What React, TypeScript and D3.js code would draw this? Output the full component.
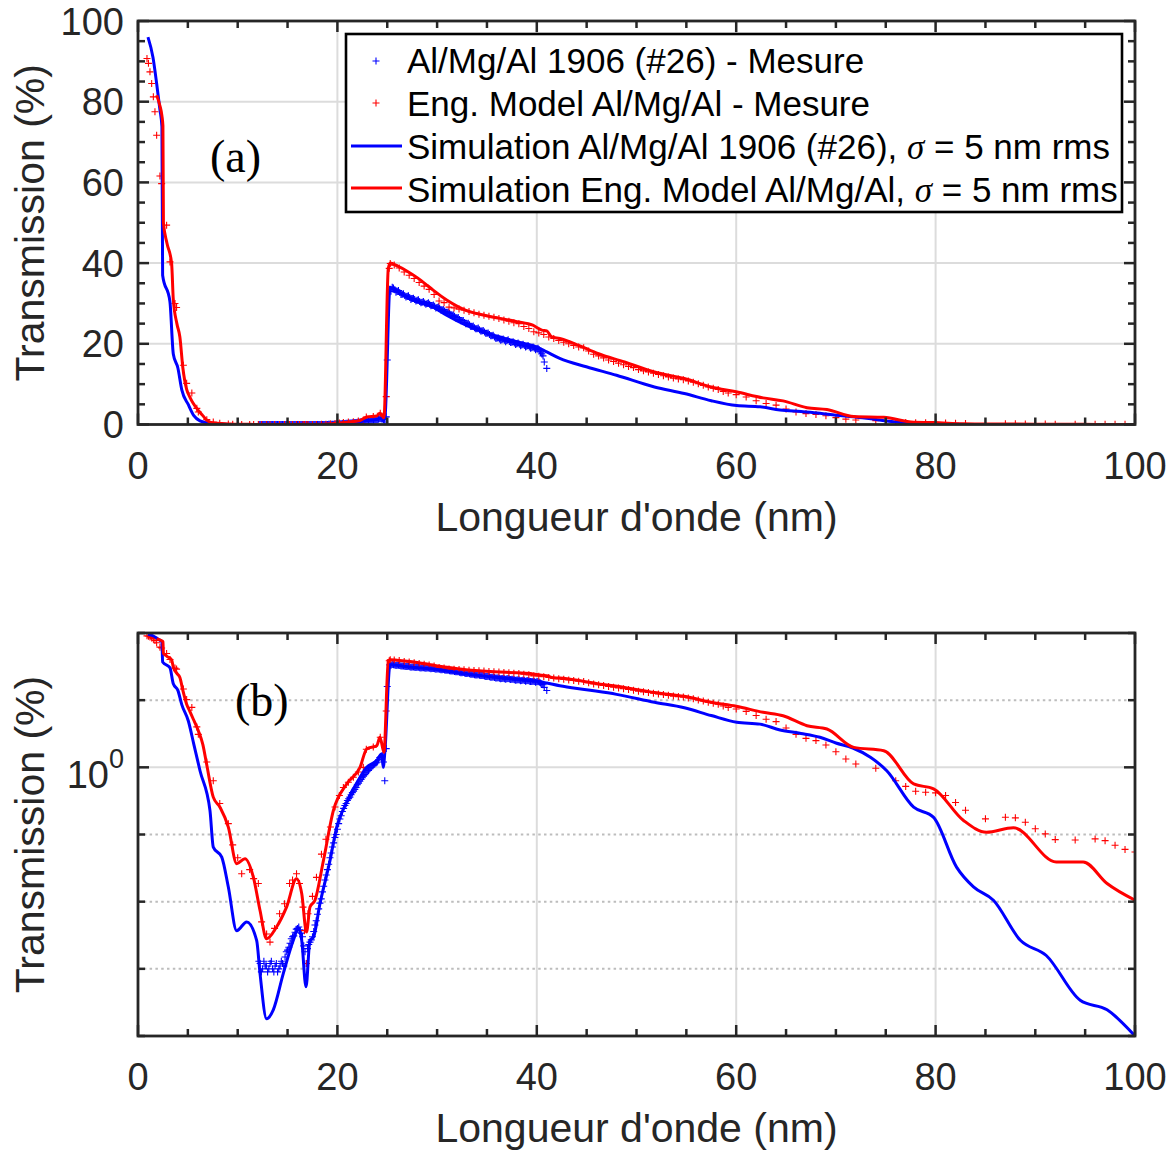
import React from "react";
import * as d3 from "d3";

type P = [number, number];

const X_TICKS = [0, 20, 40, 60, 80, 100];
const X_MINOR_STEP = 5;
const LIN_Y_TICKS = [0, 20, 40, 60, 80, 100];
const LIN_Y_MINOR_STEP = 5;
const LOG_DECADES = [1e-4, 1e-3, 1e-2, 1e-1, 1, 10, 100];
const X_LABEL = "Longueur d'onde (nm)";
const Y_LABEL = "Transmission (%)";
const LEGEND_MEAS = ["Al/Mg/Al 1906 (#26) - Mesure", "Eng. Model Al/Mg/Al - Mesure"];
const LEGEND_SIM = ["Simulation Al/Mg/Al 1906 (#26), ", "Simulation Eng. Model Al/Mg/Al, "];
const SIGMA_TEXT = " = 5 nm rms";

// Simulation Al/Mg/Al 1906 (#26) [wavelength nm, transmission %]
const blueSim: P[] = [
  [1.0, 96], [1.5, 91], [1.87, 84.5], [2.2, 78], [2.4, 73.8], [2.47, 37], [3.2, 30.5], [3.54, 17.5],
  [4.0, 14], [4.4, 8.5], [5.05, 4.9], [5.6, 2.2], [6.22, 0.89], [7.22, 0.227], [7.55, 0.065],
  [8.4, 0.046], [9.06, 0.0165], [9.9, 0.0037], [10.9, 0.005], [11.9, 0.00266], [12.24, 0.00085],
  [12.9, 0.00018], [13.57, 0.000245], [14.57, 0.00085], [15.58, 0.00266], [16.08, 0.004],
  [16.42, 0.00266], [16.85, 0.00054], [17.25, 0.00266], [17.6, 0.00295], [18.25, 0.0093],
  [19.26, 0.041], [19.93, 0.129], [20.93, 0.302], [22.27, 0.71], [22.94, 1.0], [23.94, 1.26],
  [24.44, 1.58], [24.6, 1.0], [24.77, 1.78], [25.28, 34], [26, 33], [27, 31.5], [28, 30.4],
  [29.6, 29.1], [31, 27], [32.9, 24.6], [34.5, 23], [36.3, 21.7], [38, 20.5], [40, 19.2], [41, 18],
  [42.3, 16.4], [44.97, 14.3], [48, 12.2], [51.8, 9.3], [54.8, 7.7], [57.5, 5.9], [60.05, 4.7],
  [62.4, 4.4], [64.4, 3.6], [66.5, 3.2], [68.4, 2.8], [70, 2.3], [71.7, 1.94], [73.5, 1.4],
  [75.1, 0.89], [77.8, 0.255], [79.8, 0.18], [82.1, 0.0327], [83.8, 0.0166], [85.8, 0.0105],
  [88.5, 0.00266], [91.1, 0.00158], [94.5, 0.00034], [97.2, 0.000245], [100, 0.0001],
];

// Simulation Eng. Model Al/Mg/Al
const redSim: P[] = [
  [1.87, 81.6], [2.2, 79], [2.4, 76.5], [2.5, 74], [2.55, 50], [2.9, 45], [3.37, 40], [3.54, 31],
  [3.9, 25], [4.2, 21.7], [4.5, 14], [4.88, 8.7], [5.2, 6.8], [5.55, 5.2], [6.05, 3.5], [6.5, 2.2],
  [6.89, 1.1], [7.55, 0.36], [8.22, 0.255], [9.06, 0.129], [9.9, 0.0367], [10.73, 0.0437],
  [11.57, 0.0232], [12.24, 0.0074], [12.9, 0.0028], [13.9, 0.0042], [14.9, 0.0083], [15.9, 0.0219],
  [16.42, 0.0132], [16.9, 0.00355], [17.25, 0.0083], [17.75, 0.0105], [18.6, 0.041], [19.6, 0.228],
  [20.93, 0.566], [22.27, 1.0], [22.94, 1.88], [23.94, 2.1], [24.27, 2.8], [24.67, 1.67],
  [25.1, 38.5], [25.3, 40], [26, 39.3], [27, 38], [28, 36.4], [29, 34.5], [29.6, 33.3], [31, 30.8],
  [32.9, 28.3], [34.5, 27.2], [36.3, 26.3], [38, 25.5], [39.6, 24.6], [40.5, 23.4], [41, 23.2],
  [41.5, 21.7], [42.3, 21.3], [44.2, 19.6], [46.1, 17.6], [48.8, 15.5], [51.8, 13.0], [54.8, 11.4],
  [57.5, 9.3], [60, 8.1], [62.7, 6.6], [64.7, 5.86], [67.1, 4.17], [69.1, 3.72], [71.8, 1.98],
  [74.8, 1.77], [77.8, 0.566], [79.8, 0.479], [82.8, 0.162], [85.1, 0.108], [87.8, 0.126],
  [92.1, 0.039], [94.8, 0.039], [97.2, 0.0186], [100, 0.0105],
];

// Al/Mg/Al 1906 (#26) - Mesure
const blueMeas: P[] = [
  [12.125, 0.0013], [12.25, 0.0012], [12.375, 0.0009], [12.5, 0.001], [12.625, 0.0013], [12.75, 0.0011],
  [12.875, 0.0011], [13.0, 0.0009], [13.125, 0.001], [13.25, 0.0012], [13.375, 0.0013], [13.5, 0.001],
  [13.625, 0.0009], [13.75, 0.0011], [13.875, 0.0012], [14.0, 0.0009], [14.125, 0.001], [14.25, 0.0011],
  [14.375, 0.0013], [14.5, 0.0012], [14.625, 0.0011], [14.75, 0.0015], [14.875, 0.0018], [15.0, 0.0019],
  [15.125, 0.0021], [15.25, 0.0024], [15.375, 0.0028], [15.5, 0.003], [15.625, 0.0031], [15.75, 0.0035],
  [15.875, 0.0039], [16.0, 0.004], [16.125, 0.0042], [16.25, 0.0038], [16.375, 0.0034], [16.5, 0.003],
  [16.625, 0.0022], [16.75, 0.0018], [16.875, 0.0012], [17.0, 0.002], [17.125, 0.0023], [17.25, 0.0025],
  [17.375, 0.0027], [17.5, 0.003], [17.625, 0.0036], [17.75, 0.0045], [17.875, 0.0052], [18.0, 0.0065],
  [18.125, 0.0078], [18.25, 0.0095], [18.375, 0.011], [18.5, 0.014], [18.625, 0.017], [18.75, 0.021],
  [18.875, 0.025], [19.0, 0.03], [19.125, 0.036], [19.25, 0.045], [19.375, 0.053], [19.5, 0.065],
  [19.625, 0.075], [19.75, 0.09], [19.875, 0.1], [20.0, 0.12], [20.125, 0.145], [20.25, 0.17],
  [20.375, 0.19], [20.5, 0.22], [20.625, 0.245], [20.75, 0.27], [20.875, 0.29], [21.0, 0.32],
  [21.125, 0.34], [21.25, 0.36], [21.375, 0.39], [21.5, 0.42], [21.625, 0.44], [21.75, 0.47],
  [21.875, 0.5], [22.0, 0.55], [22.125, 0.58], [22.25, 0.62], [22.375, 0.66], [22.5, 0.7],
  [22.625, 0.74], [22.75, 0.78], [22.875, 0.83], [23.0, 0.88], [23.125, 0.9], [23.25, 0.95],
  [23.375, 1.0], [23.5, 1.05], [23.625, 1.08], [23.75, 1.12], [23.875, 1.16], [24.0, 1.2],
  [24.125, 1.3], [24.25, 1.4], [24.375, 1.45], [24.5, 1.5], [24.625, 1.2], [24.75, 0.63], [24.9, 1.9],
  [25.0, 16], [25.25, 33.5], [25.375, 33.0], [25.5, 34], [25.625, 33.8], [25.75, 33.4], [25.875, 32.8],
  [26.0, 33], [26.125, 33.2], [26.25, 32.7], [26.375, 32.2], [26.5, 32.3], [26.625, 32.4], [26.75, 32.0],
  [26.875, 31.6], [27.0, 31.8], [27.125, 31.9], [27.25, 31.5], [27.375, 31.0], [27.5, 31.2], [27.625, 31.3],
  [27.75, 31.0], [27.875, 30.6], [28.0, 30.8], [28.125, 30.9], [28.25, 30.5], [28.375, 30.2], [28.5, 30.3],
  [28.625, 30.5], [28.75, 30.1], [28.875, 29.8], [29.0, 30.0], [29.125, 30.2], [29.25, 29.8], [29.375, 29.4],
  [29.5, 29.5], [29.625, 29.6], [29.75, 29.3], [29.875, 28.9], [30.0, 29.0], [30.125, 29.2], [30.25, 28.8],
  [30.375, 28.4], [30.5, 28.4], [30.625, 28.5], [30.75, 28.1], [30.875, 27.8], [31.0, 27.8], [31.125, 27.9],
  [31.25, 27.5], [31.375, 27.1], [31.5, 27.1], [31.625, 27.2], [31.75, 26.8], [31.875, 26.4], [32.0, 26.4],
  [32.125, 26.5], [32.25, 26.0], [32.375, 25.7], [32.5, 25.7], [32.625, 25.8], [32.75, 25.3], [32.875, 25.0],
  [33.0, 25.0], [33.125, 25.1], [33.25, 24.7], [33.375, 24.3], [33.5, 24.3], [33.625, 24.4], [33.75, 24.0],
  [33.875, 23.7], [34.0, 23.7], [34.125, 23.9], [34.25, 23.5], [34.375, 23.2], [34.5, 23.2], [34.625, 23.3],
  [34.75, 22.9], [34.875, 22.6], [35.0, 22.6], [35.125, 22.7], [35.25, 22.3], [35.375, 22.0], [35.5, 22.0],
  [35.625, 22.1], [35.75, 21.7], [35.875, 21.4], [36.0, 21.4], [36.125, 21.5], [36.25, 21.2], [36.375, 20.9],
  [36.5, 21.0], [36.625, 21.2], [36.75, 20.9], [36.875, 20.5], [37.0, 20.8], [37.125, 21.0], [37.25, 20.6],
  [37.375, 20.3], [37.5, 20.4], [37.625, 20.5], [37.75, 20.2], [37.875, 19.8], [38.0, 20.0], [38.125, 20.2],
  [38.25, 19.9], [38.375, 19.5], [38.5, 19.7], [38.625, 19.9], [38.75, 19.6], [38.875, 19.2], [39.0, 19.4],
  [39.125, 19.6], [39.25, 19.2], [39.375, 18.9], [39.5, 19.0], [39.625, 19.2], [39.75, 18.9], [39.875, 18.5],
  [40.0, 18.8], [40.125, 18.9], [40.25, 18.5], [40.375, 18.0], [40.5, 17.5], [40.625, 17.0], [40.75, 15.5],
  [41.0, 13.9],
];

// Eng. Model Al/Mg/Al - Mesure
const redMeas: P[] = [
  [0.9, 90.7], [1.05, 89.5], [1.2, 87.4], [1.37, 84.5], [1.54, 81.2], [1.7, 77.5], [1.87, 71.7],
  [2.2, 61.6], [2.37, 59.7], [2.87, 49.4], [3.21, 40.3], [3.71, 30], [3.87, 29], [4.55, 14.7],
  [4.88, 10.2], [5.4, 7.8], [5.9, 4], [6.05, 3.1], [6.9, 1.2], [7.55, 0.63], [8.2, 0.29],
  [9.06, 0.145], [9.5, 0.07], [10.0, 0.045], [10.4, 0.026], [11.2, 0.03], [11.6, 0.022],
  [12.07, 0.0186], [12.4, 0.005], [12.9, 0.0033], [13.24, 0.0025], [13.7, 0.004], [14.2, 0.0066],
  [14.7, 0.0093], [15.2, 0.0186], [15.5, 0.021], [15.9, 0.026], [16.2, 0.0186], [16.55, 0.0083],
  [16.7, 0.0037], [16.9, 0.0012], [17.05, 0.0066], [17.5, 0.012], [17.9, 0.023], [18.4, 0.051],
  [18.85, 0.085], [19.3, 0.129], [19.76, 0.257], [20.2, 0.38], [20.6, 0.5], [21.1, 0.6],
  [21.6, 0.71], [22.1, 0.85], [22.6, 1.0], [22.9, 1.86], [23.6, 2.0], [24.3, 2.8], [24.9, 6.9],
  [25.2, 38.7], [25.3, 39.9], [25.7, 39.5], [26.2, 38.8], [26.7, 37.8], [27.2, 37], [27.7, 36.2],
  [28.2, 35.2], [28.7, 34.3], [29.2, 33.5], [29.7, 32.2], [30.2, 30.6], [30.7, 30.2], [31.2, 29.1],
  [31.7, 28.9], [32.2, 28.6], [32.7, 28.3], [33.2, 28], [33.7, 27.7], [34.2, 27.3], [34.7, 27.1],
  [35.2, 26.8], [35.7, 26.6], [36.2, 26.3], [36.7, 25.9], [37.2, 25.6], [37.7, 25.2], [38.2, 25],
  [38.7, 24.3], [39.2, 23.8], [39.7, 23], [40.2, 22.7], [40.7, 22.3], [41.2, 21.7], [41.7, 21.3],
  [42.2, 20.8], [42.7, 20.4], [43.2, 20], [43.7, 19.6], [44.2, 19.2], [44.7, 19], [45.2, 18.2],
  [45.7, 17.4], [46.2, 17.0], [46.7, 16.5], [47.2, 16.0], [47.7, 15.6], [48.2, 15.2], [48.7, 14.8],
  [49.2, 14.4], [49.7, 14.1], [50.2, 13.6], [50.7, 13.3], [51.2, 13.0], [51.7, 12.7], [52.2, 12.4],
  [52.7, 12.1], [53.2, 11.8], [53.7, 11.5], [54.2, 11.3], [54.7, 11.1], [55.2, 10.8], [55.7, 10.5],
  [56.2, 10.1], [56.7, 9.7], [57.2, 9.3], [57.7, 9.0], [58.2, 8.7], [58.7, 8.2], [59.2, 7.8],
  [60, 7.4], [61, 6.8], [62, 5.9], [63, 5.2], [64, 4.8], [65, 3.85], [66, 3.1], [67, 2.7],
  [68, 2.5], [69, 2.15], [70, 1.71], [71, 1.33], [72, 1.12], [74, 0.97], [76, 0.63], [77, 0.52],
  [78, 0.44], [79, 0.425], [80, 0.417], [81, 0.38], [82, 0.3], [83, 0.23], [85, 0.171], [87, 0.181],
  [88, 0.177], [89, 0.152], [90, 0.122], [91, 0.102], [92, 0.084], [94, 0.083], [96, 0.086],
  [97, 0.081], [98, 0.069], [99, 0.06], [100, 0.055],
];

const BLUE = "#0000ff";
const RED = "#ff0000";
const AXIS = "#262626";
const GRID = "#dcdcdc";
const DOT_GRID = "#bdbdbd";
const SANS = "'Liberation Sans', Arial, Helvetica, sans-serif";
const SERIF = "'Liberation Serif', 'Times New Roman', serif";

const L = 138;
const R = 1135;

function Panel({ top, bottom, log, tag, tagX, tagY, id }: any) {
  const x = d3.scaleLinear().domain([0, 100]).range([L, R]);
  const y: any = log
    ? d3.scaleLog().domain([1e-4, 100]).range([bottom, top])
    : d3.scaleLinear().domain([0, 100]).range([bottom, top]);
  const line = d3
    .line<P>()
    .x((d) => x(d[0]))
    .y((d) => y(d[1]))
    .curve(d3.curveMonotoneX);
  const plus = (data: P[], s: number) =>
    data
      .map(([a, b]) => {
        const px = x(a);
        const py = y(b);
        return `M${px - s},${py}H${px + s}M${px},${py - s}V${py + s}`;
      })
      .join("");
  const xMinor = d3.range(0, 100.001, X_MINOR_STEP).filter((v) => !X_TICKS.includes(v));
  const MAJ = 11;
  const MIN = 7;

  const xGrid = X_TICKS.filter((v) => v > 0 && v < 100);
  const yTicksMajor: number[] = log ? [1] : LIN_Y_TICKS;
  const yTicksMinor: number[] = log
    ? LOG_DECADES.filter((v) => v !== 1)
    : d3.range(0, 100.001, LIN_Y_MINOR_STEP).filter((v) => !LIN_Y_TICKS.includes(v));
  const ySolidGrid: number[] = log ? [1] : LIN_Y_TICKS.filter((v) => v > 0 && v < 100);
  const yDotGrid: number[] = log ? LOG_DECADES.filter((v) => v !== 1 && v > 1e-4 && v < 100) : [];

  const cy = (top + bottom) / 2;
  const cx = (L + R) / 2;

  return (
    <g>
      <defs>
        <clipPath id={id}>
          <rect x={L} y={top} width={R - L} height={bottom - top} />
        </clipPath>
      </defs>
      <rect x={L} y={top} width={R - L} height={bottom - top} fill="#fff" />
      {xGrid.map((v) => (
        <line key={"gx" + v} x1={x(v)} x2={x(v)} y1={top} y2={bottom} stroke={GRID} strokeWidth={2} />
      ))}
      {ySolidGrid.map((v) => (
        <line key={"gy" + v} x1={L} x2={R} y1={y(v)} y2={y(v)} stroke={GRID} strokeWidth={2} />
      ))}
      {yDotGrid.map((v) => (
        <line
          key={"gd" + v}
          x1={L}
          x2={R}
          y1={y(v)}
          y2={y(v)}
          stroke={DOT_GRID}
          strokeWidth={2}
          strokeDasharray="2.5 3.3"
        />
      ))}
      <g clipPath={`url(#${id})`}>
        <path d={plus(blueMeas, 3.5)} stroke={BLUE} strokeWidth={1.1} fill="none" />
        <path d={plus(redMeas, 3.5)} stroke={RED} strokeWidth={1.1} fill="none" />
        <path d={line(blueSim) || ""} stroke={BLUE} strokeWidth={3} fill="none" strokeLinejoin="round" />
        <path d={line(redSim) || ""} stroke={RED} strokeWidth={3} fill="none" strokeLinejoin="round" />
      </g>
      {X_TICKS.map((v) => (
        <g key={"xt" + v}>
          <line x1={x(v)} x2={x(v)} y1={bottom} y2={bottom - MAJ} stroke={AXIS} strokeWidth={2.5} />
          <line x1={x(v)} x2={x(v)} y1={top} y2={top + MAJ} stroke={AXIS} strokeWidth={2.5} />
        </g>
      ))}
      {xMinor.map((v) => (
        <g key={"xm" + v}>
          <line x1={x(v)} x2={x(v)} y1={bottom} y2={bottom - MIN} stroke={AXIS} strokeWidth={2.5} />
          <line x1={x(v)} x2={x(v)} y1={top} y2={top + MIN} stroke={AXIS} strokeWidth={2.5} />
        </g>
      ))}
      {yTicksMajor.map((v) => (
        <g key={"yt" + v}>
          <line x1={L} x2={L + MAJ} y1={y(v)} y2={y(v)} stroke={AXIS} strokeWidth={2.5} />
          <line x1={R} x2={R - MAJ} y1={y(v)} y2={y(v)} stroke={AXIS} strokeWidth={2.5} />
        </g>
      ))}
      {yTicksMinor.map((v) => (
        <g key={"ym" + v}>
          <line x1={L} x2={L + MIN} y1={y(v)} y2={y(v)} stroke={AXIS} strokeWidth={2.5} />
          <line x1={R} x2={R - MIN} y1={y(v)} y2={y(v)} stroke={AXIS} strokeWidth={2.5} />
        </g>
      ))}
      <rect x={L} y={top} width={R - L} height={bottom - top} fill="none" stroke={AXIS} strokeWidth={2.8} />
      {X_TICKS.map((v) => (
        <text key={"xl" + v} x={x(v)} y={bottom + 54} textAnchor="middle" fontFamily={SANS} fontSize={38} fill={AXIS}>
          {v}
        </text>
      ))}
      {!log &&
        LIN_Y_TICKS.map((v) => (
          <text key={"yl" + v} x={124} y={y(v) + 13.5} textAnchor="end" fontFamily={SANS} fontSize={38} fill={AXIS}>
            {v}
          </text>
        ))}
      {log && (
        <text x={124} y={y(1) + 21} textAnchor="end" fontFamily={SANS} fontSize={38} fill={AXIS}>
          10
          <tspan dy={-20} fontSize={27}>
            0
          </tspan>
        </text>
      )}
      <text x={cx} y={bottom + 106} textAnchor="middle" fontFamily={SANS} fontSize={41} fill={AXIS}>
        {X_LABEL}
      </text>
      <text
        transform={`translate(44,${cy}) rotate(-90)`}
        textAnchor="middle"
        fontFamily={SANS}
        fontSize={41}
        fill={AXIS}
      >
        {Y_LABEL}
      </text>
      <text x={tagX} y={tagY} fontFamily={SERIF} fontSize={46} fill="#000">
        {tag}
      </text>
    </g>
  );
}

function Legend() {
  const bx = 346;
  const by = 34;
  const bw = 776;
  const bh = 178;
  const rowsY = [61, 103, 146, 188];
  const baseY = [73, 116, 159, 202];
  const tx = 407;
  return (
    <g>
      <rect x={bx} y={by} width={bw} height={bh} fill="#fff" stroke="#000" strokeWidth={2.6} />
      {[BLUE, RED].map((c, i) => (
        <path
          key={"lm" + i}
          d={`M${376 - 3.5},${rowsY[i]}H${376 + 3.5}M376,${rowsY[i] - 3.5}V${rowsY[i] + 3.5}`}
          stroke={c}
          strokeWidth={1.1}
        />
      ))}
      {[BLUE, RED].map((c, i) => (
        <line key={"ll" + i} x1={351} x2={402} y1={rowsY[i + 2]} y2={rowsY[i + 2]} stroke={c} strokeWidth={3} />
      ))}
      {LEGEND_MEAS.map((t, i) => (
        <text key={"lt" + i} x={tx} y={baseY[i]} fontFamily={SANS} fontSize={35} fill="#000">
          {t}
        </text>
      ))}
      {LEGEND_SIM.map((t, i) => (
        <text key={"ls" + i} x={tx} y={baseY[i + 2]} fontFamily={SANS} fontSize={35} fill="#000">
          {t}
          <tspan fontFamily={SERIF} fontStyle="italic">
            σ
          </tspan>
          {SIGMA_TEXT}
        </text>
      ))}
    </g>
  );
}

export default function App() {
  return (
    <svg
      width={1175}
      height={1153}
      style={{ position: "absolute", left: 0, top: 0, background: "#fff" }}
      xmlns="http://www.w3.org/2000/svg"
    >
      <rect x={0} y={0} width={1175} height={1153} fill="#fff" />
      <Panel top={21} bottom={424.5} log={false} tag="(a)" tagX={210} tagY={172} id="clipA" />
      <Legend />
      <Panel top={633} bottom={1036} log={true} tag="(b)" tagX={235} tagY={716} id="clipB" />
    </svg>
  );
}
